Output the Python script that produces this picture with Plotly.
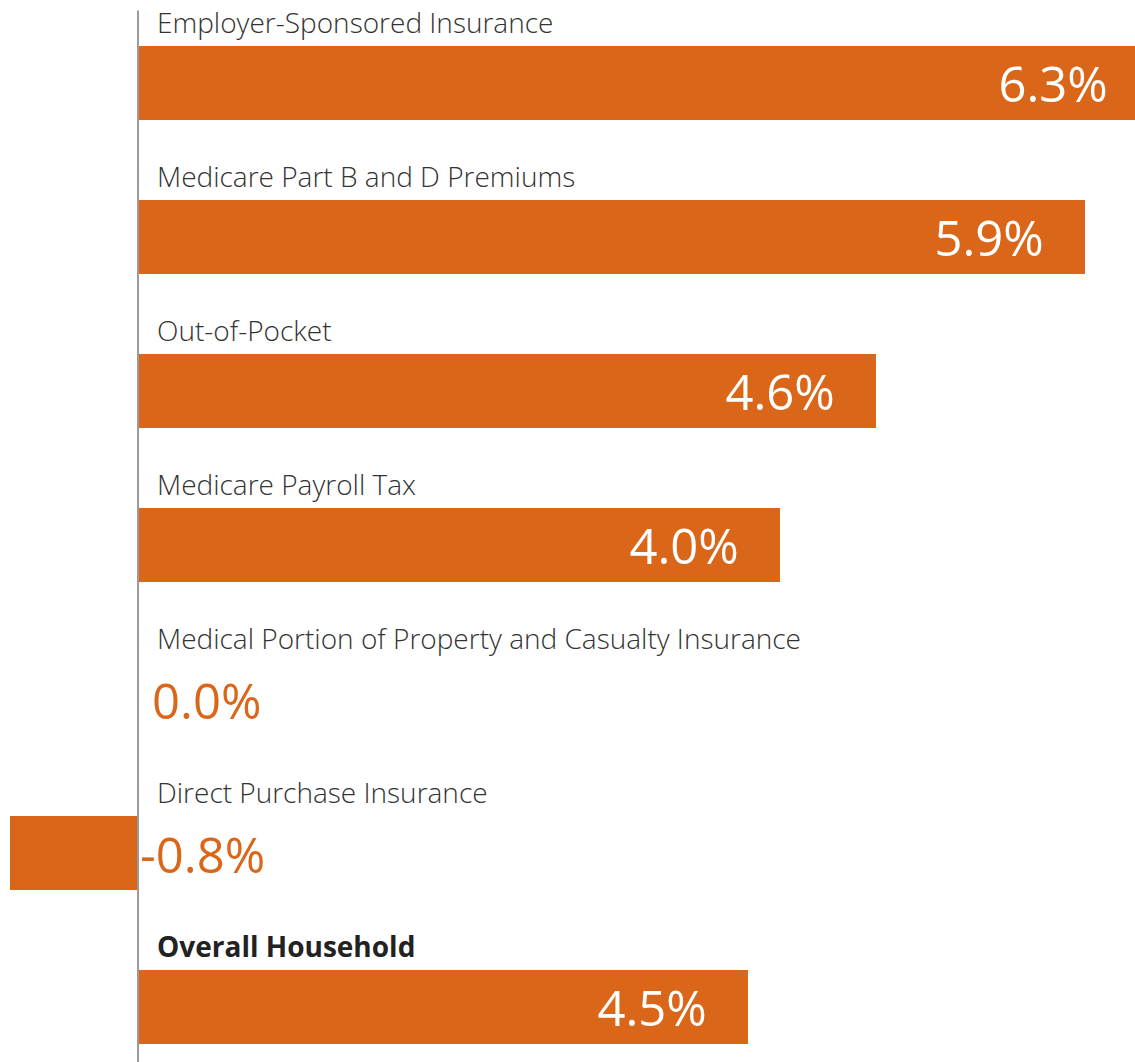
import plotly.graph_objects as go

categories = [
    "Employer-Sponsored Insurance",
    "Medicare Part B and D Premiums",
    "Out-of-Pocket",
    "Medicare Payroll Tax",
    "Medical Portion of Property and Casualty Insurance",
    "Direct Purchase Insurance",
    "Overall Household",
]
bar_values = [6.3, 5.9, 4.6, 4.0, 0.0, -0.8, 3.8]
value_labels = ["6.3%", "5.9%", "4.6%", "4.0%", "0.0%", "-0.8%", "4.5%"]
bold_categories = ["Overall Household"]

ORANGE = "#DA661A"
VALUE_FONT = "Open Sans, Noto Sans, sans-serif"
LABEL_FONT = "Open Sans, Noto Sans, sans-serif"

pad = "\u00a0\u00a0\u00a0"
inside_text = [lab + pad if v > 0 else "" for v, lab in zip(bar_values, value_labels)]

vfont = dict(family=VALUE_FONT, size=49, weight=400)

fig = go.Figure()
fig.add_trace(go.Bar(
    x=bar_values,
    y=categories,
    orientation="h",
    marker=dict(color=ORANGE, line=dict(width=0)),
    width=0.48,
    text=inside_text,
    textposition="inside",
    insidetextanchor="end",
    textangle=0,
    constraintext="none",
    textfont=dict(**vfont, color="white"),
    cliponaxis=True,
    hoverinfo="skip",
))

annotations = []
for cat in categories:
    bold = cat in bold_categories
    annotations.append(dict(
        x=0, y=cat, xref="x", yref="y",
        text=f"<b>{cat}</b>" if bold else cat,
        showarrow=False, xanchor="left", yanchor="middle",
        xshift=17, yshift=61,
        font=dict(family=LABEL_FONT, size=28, color="#222222" if bold else "#333333",
                  weight=600 if bold else 300),
    ))
for cat, v, lab in zip(categories, bar_values, value_labels):
    if v <= 0:
        annotations.append(dict(
            x=0, y=cat, xref="x", yref="y",
            text=lab, showarrow=False, xanchor="left", yanchor="middle",
            xshift=0 if lab.startswith("-") else 12, yshift=-1,
            font=dict(**vfont, color=ORANGE),
        ))

fig.add_shape(type="line", x0=0, x1=0, xref="x", y0=0, y1=0.99, yref="paper",
              line=dict(color="#9A9A9A", width=2), layer="above")

fig.update_layout(
    width=1135, height=1062,
    margin=dict(l=0, r=0, t=0, b=0),
    paper_bgcolor="white", plot_bgcolor="white",
    showlegend=False,
    bargap=0,
    xaxis=dict(range=[-0.86, 6.212], visible=False, zeroline=False, showgrid=False),
    yaxis=dict(type="category", categoryorder="array", categoryarray=categories,
               range=[6.357, -0.539], visible=False, showgrid=False, zeroline=False),
    annotations=annotations,
)

fig.write_html("out.html", config={"displayModeBar": False},
               post_script="document.body.style.margin='0';")
